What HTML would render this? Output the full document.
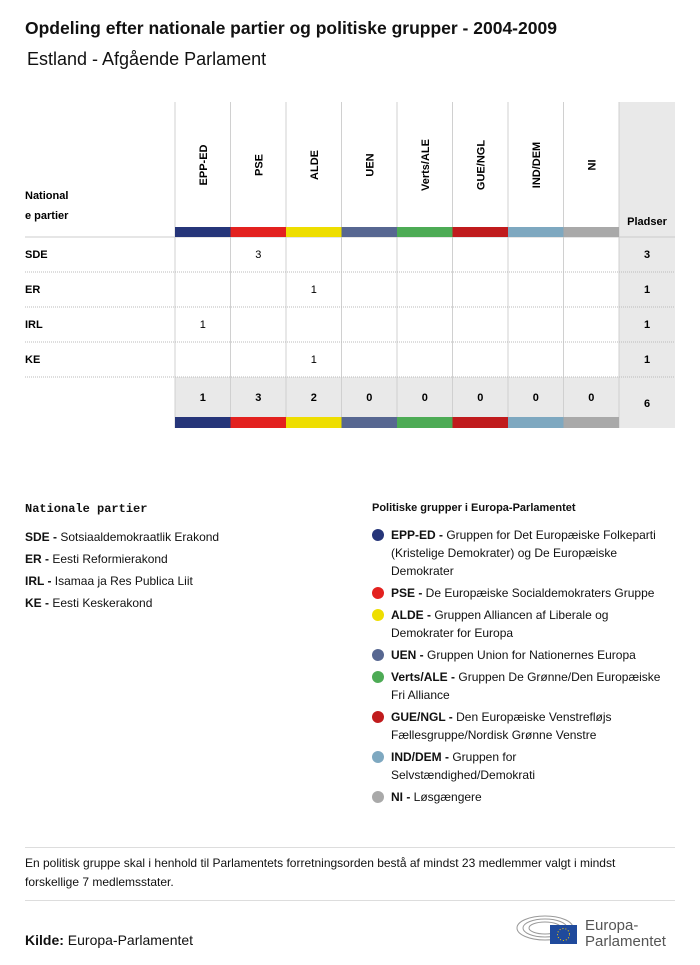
<!DOCTYPE html>
<html><head><meta charset="utf-8"><style>
body{margin:0;width:700px;height:965px;background:#fff;font-family:"Liberation Sans",sans-serif;color:#111;position:relative;overflow:hidden}
.a{position:absolute}
.t{font-size:12px}
.b{font-weight:bold}
.dot{position:absolute;width:12px;height:12px;border-radius:6px;left:372px}
.lg{position:absolute;left:391px;font-size:12px;line-height:18px;white-space:nowrap}
</style></head><body>
<div class="a b" style="left:25px;top:18px;font-size:17.5px">Opdeling efter nationale partier og politiske grupper - 2004-2009</div>
<div class="a" style="left:27px;top:49px;font-size:18px">Estland - Afgående Parlament</div>
<svg class="a" style="left:0;top:0" width="700" height="440" id="tbl"></svg>
<script>
const groups=["EPP-ED","PSE","ALDE","UEN","Verts/ALE","GUE/NGL","IND/DEM","NI"];
const colors=["#263579","#e3211f","#eede00","#576791","#4dab55","#c01b1d","#7ea8c0","#a9a9a9"];
const parties=["SDE","ER","IRL","KE"];
const seats=[[0,3,0,0,0,0,0,0],[0,0,1,0,0,0,0,0],[1,0,0,0,0,0,0,0],[0,0,1,0,0,0,0,0]];
const svg=document.getElementById('tbl');const NS="http://www.w3.org/2000/svg";
function el(n,a,txt){const e=document.createElementNS(NS,n);for(const k in a)e.setAttribute(k,a[k]);if(txt!==undefined)e.textContent=txt;svg.appendChild(e);return e;}
const x0=175,cw=55.5,px=619,pw=56,hy=102,by=227,ry=237,rh=35;
const colX=i=>x0+i*cw;const rowY=j=>ry+j*rh;
const totY=rowY(parties.length),totH=40;
let r=el('rect',{x:px,y:hy,width:pw,height:totY+totH+11-hy,fill:'#e9e9e9'});

r=el('rect',{x:x0,y:totY,width:groups.length*cw,height:totH,fill:'#e9e9e9'});

for(let i=0;i<=groups.length;i++){el('line',{x1:colX(i),x2:colX(i),y1:hy,y2:totY+totH+11,stroke:'#d0d0d0','stroke-width':1});}
el('line',{x1:25,x2:675,y1:ry,y2:ry,stroke:'#ccc'});
for(let j=1;j<=parties.length;j++)el('line',{x1:25,x2:675,y1:rowY(j),y2:rowY(j),stroke:'#bbb','stroke-dasharray':'1,1'});
groups.forEach((g,i)=>{
 const cx=colX(i)+cw/2;
 let t=el('text',{x:0,y:0,transform:`translate(${cx+4},${165}) rotate(-90)`,'text-anchor':'middle','font-size':11,'font-weight':'bold'},g);
 
 let c=el('rect',{x:colX(i),y:by,width:cw,height:10,fill:colors[i]});
 
 c=el('rect',{x:colX(i),y:totY+totH,width:cw,height:11,fill:colors[i]});
 
 const tot=seats.reduce((s,row)=>s+row[i],0);
 t=el('text',{x:cx,y:totY+24,'text-anchor':'middle','font-size':11,'font-weight':'bold'},tot);
 
});
parties.forEach((p,j)=>{
 let t=el('text',{x:25,y:rowY(j)+21,'font-size':11,'font-weight':'bold'},p);
 
 seats[j].forEach((v,i)=>{if(v){t=el('text',{x:colX(i)+cw/2,y:rowY(j)+21,'text-anchor':'middle','font-size':11},v);
 }});
 t=el('text',{x:px+pw/2,y:rowY(j)+21,'text-anchor':'middle','font-size':11,'font-weight':'bold'},seats[j].reduce((a,b)=>a+b,0));
 
});
let t=el('text',{x:px+pw/2,y:totY+30,'text-anchor':'middle','font-size':11,'font-weight':'bold'},seats.flat().reduce((a,b)=>a+b,0));

t=el('text',{x:25,y:199,'font-size':11,'font-weight':'bold'},'National');

el('text',{x:25,y:219,'font-size':11,'font-weight':'bold'},'e partier');
t=el('text',{x:px+pw/2,y:225,'text-anchor':'middle','font-size':11,'font-weight':'bold'},'Pladser');

</script>
<div class="a b" style="left:25px;top:502px;font-family:'Liberation Mono',monospace;font-size:12px">Nationale partier</div>
<div class="a t" style="left:25px;top:526px;line-height:22px">
<div><b>SDE -</b> Sotsiaaldemokraatlik Erakond</div><div><b>ER -</b> Eesti Reformierakond</div><div><b>IRL -</b> Isamaa ja Res Publica Liit</div><div><b>KE -</b> Eesti Keskerakond</div></div>
<div class="a b" style="left:372px;top:502px;font-size:11px">Politiske grupper i Europa-Parlamentet</div>
<div>
<div class="dot" style="top:529px;background:#263579"></div><div class="lg" style="top:526px"><b>EPP-ED -</b> Gruppen for Det Europæiske Folkeparti<br>(Kristelige Demokrater) og De Europæiske<br>Demokrater</div>
<div class="dot" style="top:587px;background:#e3211f"></div><div class="lg" style="top:584px"><b>PSE -</b> De Europæiske Socialdemokraters Gruppe</div>
<div class="dot" style="top:609px;background:#eede00"></div><div class="lg" style="top:606px"><b>ALDE -</b> Gruppen Alliancen af Liberale og<br>Demokrater for Europa</div>
<div class="dot" style="top:649px;background:#576791"></div><div class="lg" style="top:646px"><b>UEN -</b> Gruppen Union for Nationernes Europa</div>
<div class="dot" style="top:671px;background:#4dab55"></div><div class="lg" style="top:668px"><b>Verts/ALE -</b> Gruppen De Grønne/Den Europæiske<br>Fri Alliance</div>
<div class="dot" style="top:711px;background:#c01b1d"></div><div class="lg" style="top:708px"><b>GUE/NGL -</b> Den Europæiske Venstrefløjs<br>Fællesgruppe/Nordisk Grønne Venstre</div>
<div class="dot" style="top:751px;background:#7ea8c0"></div><div class="lg" style="top:748px"><b>IND/DEM -</b> Gruppen for<br>Selvstændighed/Demokrati</div>
<div class="dot" style="top:791px;background:#a9a9a9"></div><div class="lg" style="top:788px"><b>NI -</b> Løsgængere</div>
</div>
<div class="a" style="left:25px;top:847px;width:650px;border-top:1px solid #ddd"></div>
<div class="a t" style="left:25px;top:854px;width:650px;line-height:19px;white-space:nowrap">En politisk gruppe skal i henhold til Parlamentets forretningsorden bestå af mindst 23 medlemmer valgt i mindst<br>forskellige 7 medlemsstater.</div>
<div class="a" style="left:25px;top:900px;width:650px;border-top:1px solid #ddd"></div>
<div class="a" style="left:25px;top:932px;font-size:14px"><b>Kilde:</b> Europa-Parlamentet</div>
<div class="a" style="left:515px;top:910px">
<svg width="165" height="40"><g fill="none" stroke="#999" stroke-width="1"><ellipse cx="30" cy="18" rx="28" ry="12"/><ellipse cx="30" cy="18" rx="22" ry="9"/><ellipse cx="30" cy="18" rx="16" ry="6"/></g><rect x="35" y="15" width="27" height="19" fill="#1f4a9c"/><circle cx="48.5" cy="24.5" r="6" fill="none" stroke="#fc0" stroke-dasharray="1,2"/>
<text x="70" y="20" font-size="15" fill="#555">Europa-</text><text x="70" y="36" font-size="15" fill="#555">Parlamentet</text></svg></div>
</body></html>
